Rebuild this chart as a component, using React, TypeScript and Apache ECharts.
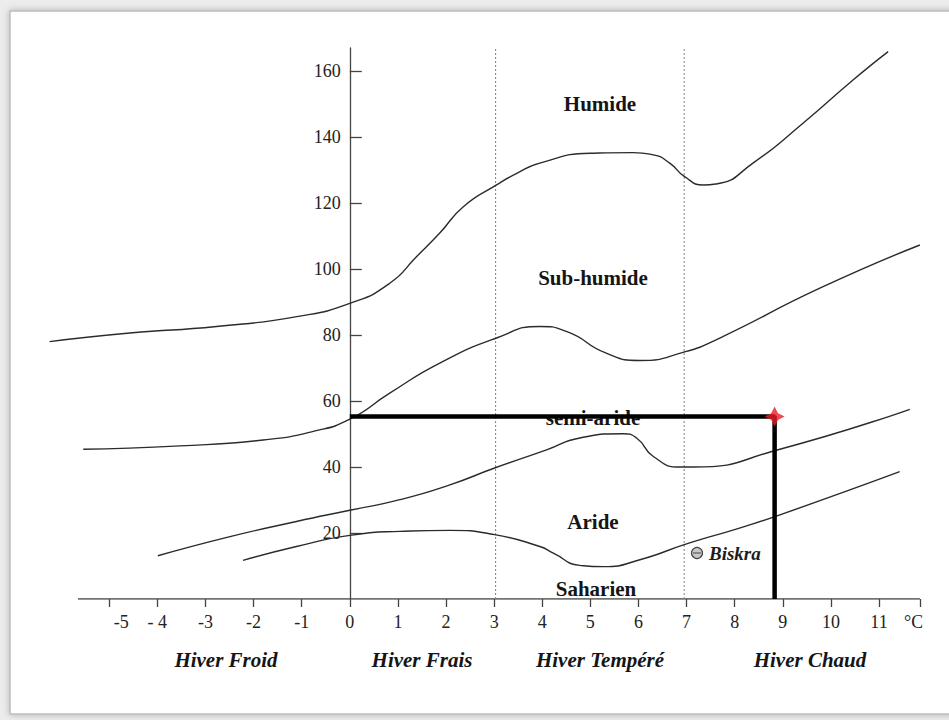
import React, { useEffect, useRef } from "react";
import * as echarts from "echarts";

// Emberger climagram limits: [m (°C), Q2]
const humideLimit = [
  [-6.24, 78.0], [-4.57, 80.6], [-2.77, 82.6], [-1.1, 85.6], [0, 89.6],
  [0.83, 95.7], [1.39, 103.8], [1.87, 110.9], [2.36, 118.9], [3.05, 125.5], [3.47, 129.0],
  [3.95, 132.1], [5.0, 135.1], [5.89, 135.3], [6.31, 134.6], [6.65, 132.1], [6.96, 128.0],
  [7.35, 125.5], [7.62, 125.8], [8.38, 132.1], [9.42, 144.2], [10.46, 157.3], [11.19, 165.9],
];
const subHumideLimit = [
  [-5.54, 45.4], [-3.53, 46.4], [-1.8, 48.2], [-0.76, 50.8], [0, 54.5], [0.83, 62.4],
  [1.87, 71.5], [3.05, 79.1], [3.95, 82.6], [4.5, 81.1], [5.33, 74.5], [6.03, 72.3],
  [6.96, 74.9], [7.69, 79.1], [9.77, 94.2], [11.85, 107.3],
];
const semiAridLimit = [
  [-3.99, 13.1], [-2.49, 18.9], [-1.11, 23.5], [0, 26.9], [1.04, 30.1], [2.08, 34.6],
  [3.01, 39.7], [4.09, 45.2], [4.78, 48.8], [5.68, 50.1], [5.96, 48.8], [6.31, 43.2],
  [6.86, 40.0], [7.14, 40.0], [8.94, 45.4], [11.64, 57.5],
];
const aridLimit = [
  [-2.22, 11.7], [-1.11, 15.9], [0, 19.3], [1.04, 20.5], [2.08, 20.8], [3.01, 19.5],
  [3.95, 15.9], [4.23, 13.9], [4.78, 10.2], [5.27, 9.8], [6.03, 11.9], [7.0, 16.7],
  [8.1, 21.5], [8.94, 25.5], [11.43, 38.6],
];
const xTickValues = [-5, -4, -3, -2, -1, 0, 1, 2, 3, 4, 5, 6, 7, 8, 9, 10, 11];
const xTickLabels = ["-5", "- 4", "-3", "-2", "-1", "0", "1", "2", "3", "4", "5", "6", "7", "8", "9", "10", "11"];
const xViewStart = -6.3;
const xAxisStart = -5.65;
const xAxisEnd = 11.85;
const yTickValues = [20, 40, 60, 80, 100, 120, 140, 160];
const yAxisMax = 167;
const winterBounds = [3.03, 6.95];
const biskraPoint = [8.83, 55.3];
const zoneLabels = ["Humide", "Sub-humide", "semi-aride", "Aride", "Saharien"];
const winterLabels = ["Hiver Froid", "Hiver Frais", "Hiver Tempéré", "Hiver Chaud"];
const stationName = "Biskra";
const unitLabel = "°C";

const SERIF = "'Liberation Serif', 'Times New Roman', serif";

export default function App() {
  const ref = useRef<HTMLDivElement>(null);

  useEffect(() => {
    if (!ref.current) return;
    const chart = echarts.init(ref.current, undefined, { renderer: "svg" });

    // pixel scale: 48.11 px per °C, y-axis at x≈349.8
    const pxPerUnit = 48.11;
    const yAxisPx = 349.8;
    const gridLeft = yAxisPx + xViewStart * pxPerUnit;
    const gridRight = 949 - (yAxisPx + xAxisEnd * pxPerUnit);

    const zonePos = [
      [600, 104], [593, 278], [593, 418], [593, 522], [596, 589],
    ];
    const winterPos = [226, 422, 600, 810];

    const curveStyle = { color: "#2b2b2b", width: 1.4 };
    const curve = (name: string, data: number[][]) => ({
      name,
      type: "line",
      data,
      smooth: 0.55,
      showSymbol: false,
      silent: true,
      lineStyle: curveStyle,
      z: 3,
    });

    const graphics: any[] = [
      {
        type: "rect",
        z: -100,
        shape: { x: 10, y: 11, width: 960, height: 703 },
        style: { fill: "#ffffff", stroke: "#bdbdbd", lineWidth: 1.5, shadowBlur: 6, shadowColor: "rgba(0,0,0,0.25)" },
      },
    ];
    zoneLabels.forEach((t, i) => {
      graphics.push({
        type: "text",
        z: 1,
        x: zonePos[i][0],
        y: zonePos[i][1],
        style: {
          text: t,
          font: `bold 21px ${SERIF}`,
          fill: "#151515",
          align: "center",
          verticalAlign: "middle",
        },
      });
    });
    winterLabels.forEach((t, i) => {
      graphics.push({
        type: "text",
        z: 1,
        x: winterPos[i],
        y: 660,
        style: {
          text: t,
          font: `italic bold 21px ${SERIF}`,
          fill: "#151515",
          align: "center",
          verticalAlign: "middle",
        },
      });
    });
    graphics.push(
      {
        type: "circle",
        z: 1,
        shape: { cx: 697, cy: 553, r: 5.5 },
        style: { fill: "#c8c8c8", stroke: "#444", lineWidth: 1.2 },
      },
      {
        type: "line",
        z: 1,
        shape: { x1: 693, y1: 553, x2: 701, y2: 553 },
        style: { stroke: "#444", lineWidth: 1 },
      },
      {
        type: "text",
        z: 1,
        x: 709,
        y: 553,
        style: {
          text: stationName,
          font: `italic bold 19px ${SERIF}`,
          fill: "#1c1c1c",
          align: "left",
          verticalAlign: "middle",
        },
      },
      {
        type: "text",
        z: 1,
        x: 904,
        y: 622,
        style: {
          text: unitLabel,
          font: `18px ${SERIF}`,
          fill: "#222",
          align: "left",
          verticalAlign: "middle",
        },
      },
      {
        type: "rect",
        z: 100,
        shape: { x: 922.5, y: 12, width: 30, height: 701 },
        style: { fill: "#ffffff" },
      }
    );

    const option: any = {
      animation: false,
      backgroundColor: "#ececec",
      grid: { left: gridLeft, right: gridRight, top: 48, bottom: 121, containLabel: false },
      xAxis: {
        type: "value",
        min: xViewStart,
        max: xAxisEnd,
        splitLine: { show: false },
        axisLine: { show: false },
        axisTick: {
          show: true,
          length: 8,
          customValues: [...xTickValues, xAxisEnd],
          lineStyle: { color: "#444", width: 1.3 },
        },
        axisLabel: {
          show: true,
          customValues: xTickValues,
          margin: 14,
          color: "#222",
          fontFamily: SERIF,
          fontSize: 18,
          formatter: (v: number) => {
            const i = xTickValues.indexOf(Math.round(v));
            const s = i >= 0 ? xTickLabels[i] : String(v);
            return i === 0 ? `{sh|${s}}` : s;
          },
          rich: {
            sh: { padding: [0, 0, 0, 24], fontFamily: SERIF, fontSize: 18, color: "#222" },
          },
        },
      },
      yAxis: {
        type: "value",
        min: 0,
        max: yAxisMax,
        offset: -(yAxisPx - gridLeft),
        splitLine: { show: false },
        axisLine: { show: true, onZero: false, lineStyle: { color: "#444", width: 1.3 } },
        axisTick: {
          show: true,
          inside: true,
          length: 12,
          customValues: yTickValues,
          lineStyle: { color: "#444", width: 1.3 },
        },
        axisLabel: {
          show: true,
          customValues: yTickValues,
          margin: 9,
          color: "#222",
          fontFamily: SERIF,
          fontSize: 18,
        },
      },
      graphic: { elements: graphics },
      series: [
        {
          name: "axe des m",
          type: "line",
          data: [[xAxisStart, 0], [xAxisEnd, 0]],
          showSymbol: false,
          silent: true,
          lineStyle: { color: "#444", width: 1.3 },
          z: 1,
        },
        ...winterBounds.map((b, i) => ({
          name: "limite hiver " + i,
          type: "line",
          data: [[b, 0], [b, yAxisMax]],
          showSymbol: false,
          silent: true,
          lineStyle: { color: "#8a8a8a", width: 1.1, type: [2, 2] },
          z: 2,
        })),
        curve("Humide", humideLimit),
        curve("Sub-humide", subHumideLimit),
        curve("Semi-aride", semiAridLimit),
        curve("Aride", aridLimit),
        {
          name: "Biskra repère",
          type: "line",
          data: [[0, biskraPoint[1]], biskraPoint, [biskraPoint[0], 0]],
          showSymbol: false,
          silent: true,
          lineStyle: { color: "#000", width: 4.5 },
          z: 5,
        },
        {
          name: "Biskra",
          type: "scatter",
          data: [biskraPoint],
          symbol: "path://M0,-10 L3.4,-3.4 L10,0 L3.4,3.4 L0,10 L-3.4,3.4 L-10,0 L-3.4,-3.4 Z",
          symbolSize: 20,
          itemStyle: { color: "#ee1c24" },
          silent: true,
          z: 6,
        },
      ],
    };
    chart.setOption(option);
    return () => chart.dispose();
  }, []);

  return (
    <div
      ref={ref}
      style={{ position: "fixed", left: 0, top: 0, width: 949, height: 720 }}
    />
  );
}
